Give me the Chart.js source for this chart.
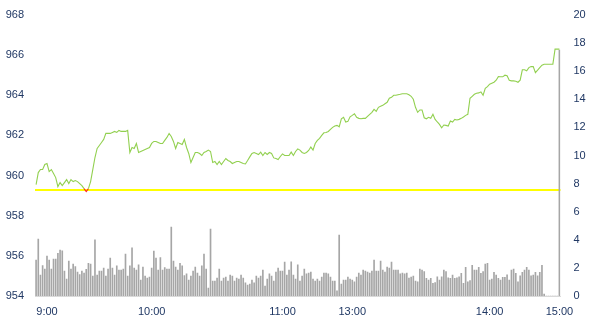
<!DOCTYPE html>
<html>
<head>
<meta charset="utf-8">
<script src="https://cdn.jsdelivr.net/npm/chart.js@4"></script>
<style>
  html, body { margin: 0; padding: 0; background: #fff; }
  #wrap { width: 597px; height: 330px; }
</style>
</head>
<body>
<div id="wrap"><canvas id="traser"></canvas></div>
<script>
// Data: one point per minute
const PRICE = [
  959.55, 960.15, 960.3, 960.3, 960.55, 960.6, 960.2, 960.3, 960.1, 959.9,
  959.45, 959.65, 959.5, 959.65, 959.8, 959.6, 959.8, 959.7, 959.75, 959.7,
  959.6, 959.5, 959.35, 959.2, 959.35, 959.7, 960.3, 960.9, 961.35, 961.5,
  961.65, 961.8, 962.1, 962.1, 962.1, 962.15, 962.2, 962.15, 962.25, 962.2,
  962.2, 962.2, 962.25, 961.15, 961.4, 961.35, 961.6, 961.15, 961.2, 961.25,
  961.3, 961.35, 961.4, 961.6, 961.7, 961.7, 961.65, 961.6, 961.6, 961.75,
  961.9, 962.1, 961.95, 961.7, 961.35, 961.65, 961.6, 961.55, 961.8, 961.4,
  961.1, 960.65, 960.9, 961.15, 961.15, 961.1, 961.0, 961.15, 961.2, 961.27,
  961.2, 960.65, 960.7, 960.55, 960.7, 960.55, 960.7, 960.85, 960.75, 960.7,
  960.6, 960.65, 960.7, 960.7, 960.65, 960.6, 960.58, 960.75, 960.93, 961.1,
  961.15, 961.1, 961.05, 961.17, 961.0, 961.15, 961.05, 961.15, 961.1, 960.88,
  960.85, 960.8, 960.95, 961.08, 961.0, 961.0, 961.0, 961.17, 961.0, 961.2,
  961.33, 961.27, 961.15, 961.1, 961.15, 961.25, 961.42, 961.27, 961.6, 961.75,
  961.85, 962.0, 962.13, 962.15, 962.2, 962.3, 962.4, 962.47, 962.5, 962.43,
  962.83, 962.9, 962.67, 962.7, 962.93, 963.0, 963.08, 962.9, 962.85, 962.83,
  962.85, 962.85, 962.95, 963.05, 963.15, 963.3, 963.2, 963.4, 963.45, 963.5,
  963.58, 963.65, 963.85, 963.9, 964.0, 964.0, 964.03, 964.05, 964.08, 964.08,
  964.08, 964.03, 963.95, 963.8, 963.4, 963.15, 963.27, 963.27, 962.88, 962.83,
  962.9, 962.85, 963.05, 962.8, 962.67, 962.55, 962.38, 962.52, 962.5, 962.47,
  962.72, 962.67, 962.8, 962.77, 962.8, 962.85, 962.92, 963.0, 963.05, 963.85,
  963.95, 964.05, 964.1, 964.12, 964.17, 964.0, 964.35, 964.43, 964.55, 964.6,
  964.65, 964.75, 964.93, 964.92, 964.92, 965.0, 964.97, 964.75, 964.72, 964.72,
  964.7, 964.65, 964.75, 965.27, 965.27, 965.22, 965.38, 965.43, 965.43, 965.13,
  965.25, 965.38, 965.5, 965.55, 965.55, 965.55, 965.55, 965.55, 966.3, 966.3,
  966.3
];

const VOLUME = [
  2.56, 4.06, 1.49, 2.16, 1.92, 2.85, 2.56, 1.92, 2.63, 2.63,
  3.04, 3.27, 3.22, 1.78, 1.21, 2.49, 1.92, 2.28, 2.09, 1.71,
  1.52, 1.78, 1.64, 1.9, 2.32, 2.28, 1.42, 3.99, 1.49, 1.78,
  1.78, 1.99, 1.42, 1.92, 2.7, 1.99, 1.49, 2.14, 1.85, 1.85,
  1.92, 2.99, 1.42, 2.14, 3.42, 1.99, 1.85, 2.21, 1.14, 2.06,
  1.42, 1.28, 1.35, 1.99, 3.2, 2.7, 1.85,
  2.73, 1.85, 2.02, 1.92, 1.92, 4.91, 2.49, 2.06, 1.85, 2.32,
  2.14, 1.45, 1.57, 1.14, 1.42, 1.78, 2.06, 1.64, 1.42, 2.14,
  2.99, 1.92, 0.57, 4.77, 1.07, 1.07, 1.28, 1.92, 1.07, 1.28,
  1.35, 1.07, 1.49, 1.42, 1.07, 1.28, 1.21, 1.49, 1.28, 0.93,
  0.78, 0.85, 1.14, 0.93, 1.42, 1.28, 1.42, 1.85, 0.71, 1.21,
  1.57, 1.42, 1.07, 1.71, 1.99, 1.78, 1.78, 2.42, 1.49, 1.85,
  2.44, 1.49, 1.21, 2.21, 1.07, 1.42, 1.92, 1.57, 1.64, 1.71,
  1.21, 1.07, 1.2, 1.07, 1.35, 1.64, 1.64, 1.57, 1.35, 1.07,
  1.07, 0.36, 4.34, 0.85, 1.14, 1.14, 1.35, 1.21, 1.14, 1.0,
  1.35, 1.64, 1.49, 1.85, 1.78, 1.71, 1.64, 1.78, 2.56, 1.78,
  1.78, 2.49, 1.85, 1.71, 2.06, 1.99, 2.42, 1.85, 1.85, 1.85,
  1.57, 1.64, 1.57, 1.64, 1.28, 1.35, 1.42, 1.07, 1.0, 1.92,
  1.85, 1.73, 1.26, 1.14, 1.26, 0.9, 0.95, 1.37, 1.14, 1.37,
  1.85, 1.73, 1.3, 1.26, 1.49, 1.26, 1.3, 1.37, 1.61, 0.9,
  2.04, 1.0, 1.09, 2.18, 1.85, 1.85, 2.04, 1.61, 1.73, 2.28,
  2.32, 1.14, 1.2, 1.68, 1.49, 1.26, 1.14, 1.32, 1.32, 1.5,
  1.14, 1.85, 1.92, 1.61, 1.0, 1.44, 1.68, 1.85, 2.04, 1.85,
  1.44, 1.49, 1.68, 1.44, 1.68, 2.18, 0.14,
  0, 0, 0, 0, 0, 0, 17.5
];

// Reference price (yellow line)
const REF_PRICE = 959.3;

// Time labels and the minute they sit on
const TICK_LABELS = ['9:00', '10:00', '11:00', '13:00', '14:00', '15:00'];
const TICK_INDEX = [5, 53, 113, 145, 208, 240];

// Constants
const TEXT_COLOR = '#203864';
const FONT = { family: 'Liberation Sans, Arial, sans-serif', size: 11 };
const UP_COLOR = '#92D050';
const DOWN_COLOR = '#FF2020';

const labels = PRICE.map(() => '');
TICK_INDEX.forEach((idx, k) => { labels[idx] = TICK_LABELS[k]; });

// Horizontal reference line, placed through the price scale
const refLinePlugin = {
  id: 'refLine',
  beforeDatasetsDraw(chart) {
    const { ctx, chartArea, scales } = chart;
    const y = Math.round(scales.y.getPixelForValue(REF_PRICE));
    ctx.save();
    ctx.strokeStyle = '#FFFF00';
    ctx.lineWidth = 2;
    ctx.beginPath();
    ctx.moveTo(chartArea.left, y);
    ctx.lineTo(chartArea.right, y);
    ctx.stroke();
    ctx.restore();
  }
};

const belowRef = (c) => c.p0.parsed.y < REF_PRICE || c.p1.parsed.y < REF_PRICE;

// Fixed axis box, no extra label padding pushing the plot area around
const fixWidth = (w) => (scale) => {
  scale.width = w;
  scale.paddingTop = 0;
  scale.paddingBottom = 0;
};

new Chart(document.getElementById('traser'), {
  data: {
    labels: labels,
    datasets: [
      {
        type: 'line',
        data: PRICE,
        yAxisID: 'y',
        borderColor: UP_COLOR,
        borderWidth: 1.1,
        pointRadius: 0,
        tension: 0,
        segment: {
          borderColor: (c) => belowRef(c) ? DOWN_COLOR : UP_COLOR
        },
        order: 1
      },
      {
        type: 'bar',
        data: VOLUME,
        yAxisID: 'y2',
        backgroundColor: '#A6A6A6',
        borderWidth: 0,
        barThickness: 1,
        order: 2
      }
    ]
  },
  options: {
    responsive: true,
    maintainAspectRatio: false,
    animation: false,
    layout: { padding: { top: 15, left: 0, right: 0, bottom: 0 } },
    plugins: {
      legend: { display: false },
      tooltip: { enabled: false }
    },
    scales: {
      x: {
        offset: true,
        grid: { display: false, drawTicks: false },
        border: { display: true, color: '#D9D9D9', width: 1 },
        ticks: {
          autoSkip: false,
          maxRotation: 0,
          minRotation: 0,
          padding: 9,
          color: TEXT_COLOR,
          font: FONT
        },
        afterFit: (scale) => { scale.height = 34; }
      },
      y: {
        position: 'left',
        min: 954,
        max: 968,
        grid: { display: false, drawTicks: false },
        border: { display: false },
        ticks: { stepSize: 2, padding: 11, color: TEXT_COLOR, font: FONT },
        afterFit: fixWidth(35)
      },
      y2: {
        position: 'right',
        min: 0,
        max: 20,
        grid: { display: false, drawTicks: false },
        border: { display: false },
        ticks: { stepSize: 2, padding: 13, color: TEXT_COLOR, font: FONT },
        afterFit: fixWidth(36.5)
      }
    }
  },
  plugins: [refLinePlugin]
});
</script>
</body>
</html>
